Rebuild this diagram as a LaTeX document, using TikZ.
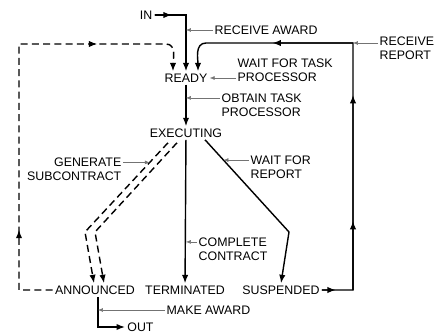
\documentclass[tikz,border=0pt]{standalone}
\usepackage{fontspec}
\setmainfont{Liberation Sans}
\usetikzlibrary{positioning, calc, arrows.meta, decorations.markings}

\tikzset{mtip/.tip={Latex[length=6pt,width=4.5pt]}}

\begin{document}
\begin{tikzpicture}[
            x=0.025cm, y=-0.025cm,
            state/.style={inner sep=1.5pt, font=\fontsize{8.8}{10}\selectfont},
            lbl/.style={inner sep=1pt, font=\fontsize{8.8}{10}\selectfont},
            flow/.style={line width=1pt, -mtip},
            sub/.style={flow, dash pattern=on 5pt off 3pt},
            lead/.style={line width=0.4pt, black!55, -{Latex[length=3.5pt,width=2.8pt]}}
        ]
            \useasboundingbox (0,0) rectangle (435,335);

            % --- states ---
            \node[state] (in) at (146,15) {IN};
            \node[state] (ready) at (186,78) {READY};
            \node[state] (executing) at (186,133) {EXECUTING};
            \node[state] (announced) at (95,290) {ANNOUNCED};
            \node[state] (terminated) at (185,290) {TERMINATED};
            \node[state] (suspended) at (281,290) {SUSPENDED};
            \node[state, anchor=west] (out) at (125,327) {OUT};

            % --- transition labels ---
            \node[lbl, anchor=west] (lblaward) at (213,30) {RECEIVE AWARD};
            \node[lbl, anchor=north west, align=left] (lblreport) at (378,35) {RECEIVE\\REPORT};
            \node[lbl, anchor=north west, align=left] (lblwait) at (236,57) {WAIT FOR TASK\\PROCESSOR};
            \node[lbl, anchor=north west, align=left] (lblobtain) at (220,92) {OBTAIN TASK\\PROCESSOR};
            \node[lbl, anchor=north east, align=right] (lblgen) at (123,156) {GENERATE\\SUBCONTRACT};
            \node[lbl, anchor=north west, align=left] (lblwrep) at (249,154) {WAIT FOR\\REPORT};
            \node[lbl, anchor=north west, align=left] (lblcomp) at (197,236) {COMPLETE\\CONTRACT};
            \node[lbl, anchor=west] (lblmake) at (165,310) {MAKE AWARD};

            % --- corners ---
            \coordinate (inturn) at (ready.north |- in.east);
            \coordinate (readyL) at ($(ready.north)+(-13,0)$);
            \coordinate (readyR) at ($(ready.north)+(12,0)$);
            \coordinate (rptop) at (353,43);
            \coordinate (rpbottom) at (rptop |- suspended.east);
            \coordinate (dtop) at (19,44);
            \coordinate (dbottom) at (dtop |- announced.west);
            \coordinate (exR) at ($(executing.south)+(19,0)$);
            \coordinate (bendR) at (289,232);
            \coordinate (exL1) at ($(executing.south)+(-18,3)$);
            \coordinate (exL2) at ($(executing.south)+(-9,3)$);
            \coordinate (bendL1) at (85,232);
            \coordinate (bendL2) at (95,232);
            \coordinate (anS) at ($(announced.south)+(3,0)$);

            % --- transitions ---
            \draw[flow] (in.east) -- (inturn) -- (ready.north);
            \draw[flow] (in.east) -- ($(in.east)!0.55!(inturn)$);
            \draw[flow] (suspended.east) -- (rpbottom) -- (rptop) -- ($(readyR |- rptop)+(8,0)$) to[out=180, in=90] (readyR);
            \draw[flow] (suspended.east) -- ($(suspended.east)!0.45!(rpbottom)$);
            \draw[flow] (rpbottom) -- ($(rpbottom)!0.28!(rptop)$);
            \draw[flow] (rpbottom) -- ($(rpbottom)!0.79!(rptop)$);
            \draw[flow] (rptop) -- ($(rptop)!0.52!(readyR |- rptop)$);
            \draw[sub, postaction={decorate, decoration={markings,
                mark=at position 2.35cm with {\arrow{mtip}},
                mark=at position 8.95cm with {\arrow{mtip}}}}]
              (announced.west) -- (dbottom) -- (dtop) -- ($(readyL |- dtop)+(-7,0)$) to[out=0, in=90] (readyL);
            \draw[flow] (ready) -- (executing);
            \draw[flow] (executing) -- (terminated);
            \draw[flow] (exR) -- (bendR) -- (suspended.north);
            \draw[sub] (exL1) -- (bendL1) -- ($(announced.north)+(-1,0)$);
            \draw[sub] (exL2) -- (bendL2) -- ($(announced.north)+(9,0)$);
            \draw[flow] (anS) -- (anS |- out.west) -- (out.west);

            % --- label leaders ---
            \coordinate (obtainfrom) at ([yshift=-4.2pt]lblobtain.north west);
            \coordinate (compfrom) at ([yshift=-4.2pt]lblcomp.north west);
            \coordinate (wrephit) at ($(exR)!0.22!(bendR)$);
            \coordinate (genhit) at ($(exL1)!0.22!(bendL1)$);
            \draw[lead] (lblaward.west) -- (inturn |- lblaward.west);
            \draw[lead] (lblreport.west |- rptop) -- (rptop);
            \draw[lead] (lblwait.west |- ready.east) -- (ready.east);
            \draw[lead] (obtainfrom) -- (ready.south |- obtainfrom);
            \draw[lead] (lblwrep.west |- wrephit) -- (wrephit);
            \draw[lead] (lblgen.east |- genhit) -- (genhit);
            \draw[lead] (compfrom) -- (executing.south |- compfrom);
            \draw[lead] (lblmake.west) -- (anS |- lblmake.west);

        \end{tikzpicture}
\end{document}
